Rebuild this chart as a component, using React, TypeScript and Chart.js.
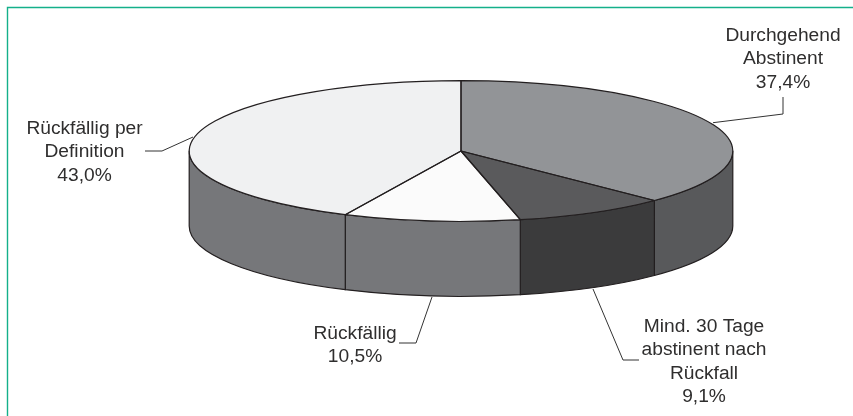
import React, { useEffect, useRef } from "react";
import { Chart, registerables } from "chart.js";

Chart.register(...registerables);

const categories = [
  ["Durchgehend", "Abstinent"],
  ["Mind. 30 Tage", "abstinent nach", "Rückfall"],
  ["Rückfällig"],
  ["Rückfällig per", "Definition"],
];
const values = [37.4, 9.1, 10.5, 43.0];
const topColors = ["#929497", "#5a5a5c", "#fbfbfb", "#f0f1f2"];
const wallColors = ["#58595b", "#3b3b3c", "#76777a", "#76777a"];

const labelAnchors = [
  { x: 783, y: 41 },
  { x: 704, y: 332 },
  { x: 355, y: 339 },
  { x: 84.5, y: 134 },
];
const leaders = [
  [[783, 97], [783, 114], [713, 122.7]],
  [[593, 289], [623, 360], [639, 360]],
  [[432, 297], [416, 343], [399, 343]],
  [[145, 151], [162, 151], [193, 137]],
];

const RX = 271.8;
const RY = 70.4;
const DEPTH = 75;
const INK = "#231f20";

const pseudo3d = {
  id: "pseudo3d",
  beforeDraw(chart: any) {
    const c = chart.ctx;
    c.save();
    c.strokeStyle = "#14b08a";
    c.lineWidth = 1.4;
    c.beginPath();
    c.moveTo(7.5, 416);
    c.lineTo(7.5, 7.5);
    c.lineTo(853, 7.5);
    c.stroke();
    c.restore();
  },
  beforeDatasetsDraw(chart: any) {
    const c = chart.ctx;
    const arcs = chart.getDatasetMeta(0).data;
    const { x: cx, y: cy, outerRadius: R } = arcs[0];
    const TAU = Math.PI * 2;
    c.save();
    c.lineWidth = 1.2;
    c.strokeStyle = INK;
    c.lineJoin = "round";
    arcs.forEach((arc: any, i: number) => {
      // visible outer wall: the part of the slice on the front half of the ellipse
      const ranges: [number, number][] = [];
      for (const k of [-1, 0, 1]) {
        const a0 = Math.max(arc.startAngle, k * TAU);
        const a1 = Math.min(arc.endAngle, k * TAU + Math.PI);
        if (a1 > a0) ranges.push([a0, a1]);
      }
      ranges.forEach(([a0, a1]) => {
        c.beginPath();
        c.ellipse(cx, cy, RX, RY, 0, a0, a1, false);
        c.ellipse(cx, cy + DEPTH, RX, RY, 0, a1, a0, true);
        c.closePath();
        c.fillStyle = wallColors[i];
        c.fill();
        c.stroke();
      });
    });
    c.restore();
    c.save();
    c.translate(cx, cy);
    c.scale(RX / R, RY / R);
    c.translate(-cx, -cy);
  },
  afterDatasetsDraw(chart: any) {
    const c = chart.ctx;
    c.restore();
    const arcs = chart.getDatasetMeta(0).data;
    const { x: cx, y: cy } = arcs[0];
    c.save();
    c.lineWidth = 1.2;
    c.strokeStyle = INK;
    c.lineJoin = "round";
    arcs.forEach((arc: any) => {
      c.beginPath();
      c.moveTo(cx, cy);
      c.ellipse(cx, cy, RX, RY, 0, arc.startAngle, arc.endAngle, false);
      c.closePath();
      c.stroke();
    });

    c.lineWidth = 1;
    c.strokeStyle = "#333333";
    leaders.forEach((pts) => {
      c.beginPath();
      pts.forEach(([x, y], i) => (i ? c.lineTo(x, y) : c.moveTo(x, y)));
      c.stroke();
    });

    c.font = '19.2px "Liberation Sans", Arial, sans-serif';
    c.fillStyle = "#2f2e2e";
    c.textAlign = "center";
    c.textBaseline = "alphabetic";
    categories.forEach((lines, i) => {
      const all = [...lines, values[i].toFixed(1).replace(".", ",") + "%"];
      all.forEach((t, j) => {
        c.fillText(t, labelAnchors[i].x, labelAnchors[i].y + j * 23.4);
      });
    });
    c.restore();
  },
};

export default function App() {
  const ref = useRef<HTMLCanvasElement>(null);
  useEffect(() => {
    const chart = new Chart(ref.current!, {
      type: "pie",
      data: {
        labels: categories.map((l) => l.join(" ")),
        datasets: [
          {
            data: values,
            backgroundColor: topColors,
            borderWidth: 0,
            clip: false,
          } as any,
        ],
      },
      options: {
        animation: false,
        responsive: false,
        devicePixelRatio: 1,
        layout: { padding: { left: 316, right: 247, top: 6, bottom: 120 } },
        plugins: { legend: { display: false }, tooltip: { enabled: false } },
      },
      plugins: [pseudo3d],
    });
    return () => chart.destroy();
  }, []);
  return (
    <div style={{ position: "absolute", left: 0, top: 0, width: 853, height: 416, background: "#fff" }}>
      <canvas ref={ref} width={853} height={416} style={{ display: "block" }} />
    </div>
  );
}
